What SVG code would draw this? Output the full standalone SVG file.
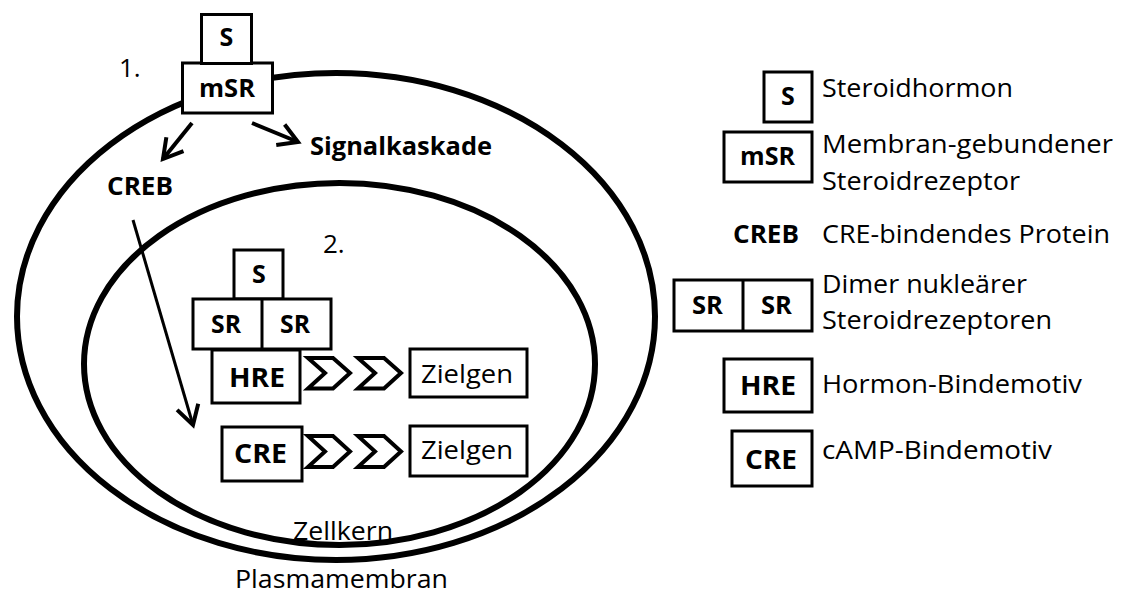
<svg xmlns="http://www.w3.org/2000/svg" width="1123" height="594" viewBox="0 0 1123 594">
<style>
text{font-family:"Open Sans","Noto Sans","Liberation Sans",sans-serif;fill:#000}
.b{font-weight:bold}
.lbl{font-size:26px}
.bx{font-size:25px;font-weight:bold;text-anchor:middle}
.bxl{font-size:27px;font-weight:bold;text-anchor:middle}
.box{fill:#fff;stroke:#000;stroke-width:3}
.mem{fill:none;stroke:#000;stroke-width:6}
.chev{fill:#fff;stroke:#000;stroke-width:4;stroke-linejoin:miter}
.arr{fill:none;stroke:#000;stroke-linecap:butt}
</style>
<defs>
<marker id="head" markerUnits="userSpaceOnUse" markerWidth="40" markerHeight="40" refX="0" refY="0" orient="auto" overflow="visible">
<path d="M-19,-11 L0,0 L-19,11" fill="none" stroke="#000" stroke-width="4" stroke-linejoin="miter"/>
</marker>
</defs>
<rect width="1123" height="594" fill="#fff"/>

<g id="plasmamembran">
<ellipse class="mem" cx="336" cy="316.5" rx="319" ry="243.5"/>
<text class="lbl" x="235" y="588" textLength="213" lengthAdjust="spacingAndGlyphs">Plasmamembran</text>
</g>
<g id="zellkern">
<ellipse class="mem" cx="339.5" cy="364" rx="255.5" ry="181"/>
</g>

<g id="connectors">
<line class="arr" x1="192" y1="123" x2="163" y2="159" stroke-width="4" marker-end="url(#head)"/>
<line class="arr" x1="252" y1="123" x2="298" y2="142" stroke-width="4" marker-end="url(#head)"/>
<line class="arr" x1="133" y1="220" x2="193" y2="425" stroke-width="3" marker-end="url(#head)"/>
</g>

<g id="msr">
<rect class="box" x="182.5" y="63" width="90" height="50"/>
<text class="bx" x="227" y="97" textLength="56" lengthAdjust="spacingAndGlyphs">mSR</text>
</g>
<g id="s-top">
<rect class="box" x="201.5" y="14.5" width="50" height="49"/>
<text class="bx" x="226.5" y="46">S</text>
</g>
<text id="label-1" class="lbl" x="119" y="77">1.</text>
<text id="signalkaskade" class="b" font-size="25" x="310" y="155" textLength="182" lengthAdjust="spacingAndGlyphs">Signalkaskade</text>
<text id="creb" class="b" font-size="25" x="107" y="195" textLength="66" lengthAdjust="spacingAndGlyphs">CREB</text>
<text id="label-2" class="lbl" x="323" y="253">2.</text>

<g id="s-inner">
<rect class="box" x="234" y="250" width="49" height="49"/>
<text class="bx" x="259" y="283">S</text>
</g>
<g id="sr-dimer">
<rect class="box" x="193" y="299" width="138" height="50"/>
<line x1="262" y1="299" x2="262" y2="349" stroke="#000" stroke-width="3"/>
<text class="bx" x="226" y="333" textLength="30" lengthAdjust="spacingAndGlyphs">SR</text>
<text class="bx" x="295" y="333" textLength="30" lengthAdjust="spacingAndGlyphs">SR</text>
</g>
<g id="hre">
<rect class="box" x="212" y="350" width="88" height="53"/>
<text class="bxl" x="257" y="387" textLength="56" lengthAdjust="spacingAndGlyphs">HRE</text>
</g>
<g id="chevrons-hre">
<polygon class="chev" points="308,358 333,358 350,373 333,388.5 308,388.5 325,373"/>
<polygon class="chev" points="358,358 384,358 401,373 384,388.5 358,388.5 375,373"/>
</g>
<g id="zielgen-1">
<rect class="box" x="410" y="349" width="117" height="48"/>
<text class="lbl" x="421" y="383" textLength="92" lengthAdjust="spacingAndGlyphs">Zielgen</text>
</g>
<g id="cre">
<rect class="box" x="222" y="427" width="80" height="54"/>
<text class="bxl" x="260.5" y="463" textLength="53" lengthAdjust="spacingAndGlyphs">CRE</text>
</g>
<g id="chevrons-cre">
<polygon class="chev" points="308,436 333,436 350,451.5 333,467 308,467 325,451.5"/>
<polygon class="chev" points="358,436 384,436 401,451.5 384,467 358,467 375,451.5"/>
</g>
<g id="zielgen-2">
<rect class="box" x="410" y="426" width="117" height="50"/>
<text class="lbl" x="421" y="459" textLength="92" lengthAdjust="spacingAndGlyphs">Zielgen</text>
</g>
<text id="zellkern-label" class="lbl" x="293" y="540" textLength="100" lengthAdjust="spacingAndGlyphs">Zellkern</text>

<g id="legend">
<g id="legend-s">
<rect class="box" x="764" y="72" width="48" height="50"/>
<text class="bx" x="788" y="105">S</text>
<text class="lbl" x="822" y="97" textLength="191" lengthAdjust="spacingAndGlyphs">Steroidhormon</text>
</g>
<g id="legend-msr">
<rect class="box" x="724" y="132" width="88" height="50"/>
<text class="bx" x="767.5" y="165" textLength="55" lengthAdjust="spacingAndGlyphs">mSR</text>
<text class="lbl" x="822" y="153" textLength="291" lengthAdjust="spacingAndGlyphs">Membran-gebundener</text>
<text class="lbl" x="822" y="190" textLength="198" lengthAdjust="spacingAndGlyphs">Steroidrezeptor</text>
</g>
<g id="legend-creb">
<text class="b" font-size="25" x="733" y="243" textLength="66" lengthAdjust="spacingAndGlyphs">CREB</text>
<text class="lbl" x="822" y="243" textLength="288" lengthAdjust="spacingAndGlyphs">CRE-bindendes Protein</text>
</g>
<g id="legend-sr">
<rect class="box" x="674" y="280" width="138" height="51"/>
<line x1="743" y1="280" x2="743" y2="331" stroke="#000" stroke-width="3"/>
<text class="bx" x="707.5" y="314" textLength="31" lengthAdjust="spacingAndGlyphs">SR</text>
<text class="bx" x="776.5" y="314" textLength="31" lengthAdjust="spacingAndGlyphs">SR</text>
<text class="lbl" x="822" y="293" textLength="205" lengthAdjust="spacingAndGlyphs">Dimer nukleärer</text>
<text class="lbl" x="822" y="329" textLength="230" lengthAdjust="spacingAndGlyphs">Steroidrezeptoren</text>
</g>
<g id="legend-hre">
<rect class="box" x="724" y="359" width="88" height="53"/>
<text class="bxl" x="768" y="395" textLength="56" lengthAdjust="spacingAndGlyphs">HRE</text>
<text class="lbl" x="822" y="393" textLength="260" lengthAdjust="spacingAndGlyphs">Hormon-Bindemotiv</text>
</g>
<g id="legend-cre">
<rect class="box" x="732" y="431" width="80" height="55"/>
<text class="bxl" x="771" y="469" textLength="52" lengthAdjust="spacingAndGlyphs">CRE</text>
<text class="lbl" x="822" y="459" textLength="230" lengthAdjust="spacingAndGlyphs">cAMP-Bindemotiv</text>
</g>
</g>
</svg>
